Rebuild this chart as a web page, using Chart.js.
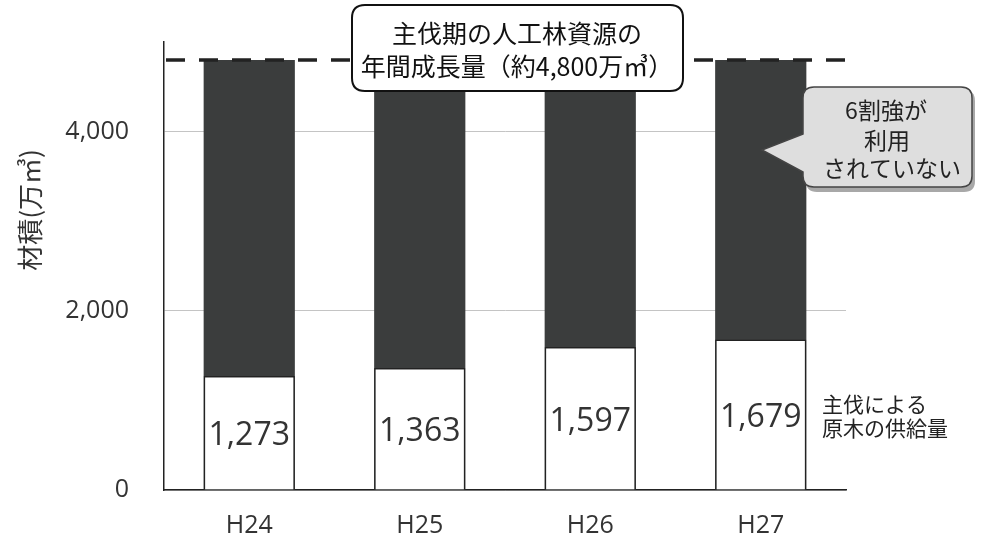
<!DOCTYPE html>
<html><head><meta charset="utf-8">
<script src="https://cdn.jsdelivr.net/npm/chart.js@4"></script>
<style>html,body{margin:0;padding:0;background:#fff}#wrap{width:983px;height:540px}</style>
</head><body><div id="wrap"><canvas id="c" width="983" height="540"></canvas></div>
<script>
const categories = ["H24", "H25", "H26", "H27"];
const supplyValues = [1273, 1363, 1597, 1679];
const growthValues = [4800, 4800, 4800, 4800];
const growthLevel = 4800;
const yTicks = [0, 2000, 4000];
const yTitle = "材積(万㎥)";
const boxLines = ["主伐期の人工林資源の", "年間成長量（約4,800万㎥）"];
const calloutLines = ["6割強が", "利用", "されていない"];
const sideLabelLines = ["主伐による", "原木の供給量"];

const JP = '"Noto Sans CJK JP", "Noto Sans", sans-serif';
const NUM = '"Open Sans", "Noto Sans", sans-serif';

function roundRect(ctx, x, y, w, h, r) {
  ctx.beginPath();
  ctx.moveTo(x + r, y);
  ctx.lineTo(x + w - r, y);
  ctx.quadraticCurveTo(x + w, y, x + w, y + r);
  ctx.lineTo(x + w, y + h - r);
  ctx.quadraticCurveTo(x + w, y + h, x + w - r, y + h);
  ctx.lineTo(x + r, y + h);
  ctx.quadraticCurveTo(x, y + h, x, y + h - r);
  ctx.lineTo(x, y + r);
  ctx.quadraticCurveTo(x, y, x + r, y);
  ctx.closePath();
}

const bgPlugin = {
  id: 'bg',
  beforeDraw(chart) {
    const ctx = chart.ctx;
    ctx.save(); ctx.fillStyle = '#fff'; ctx.fillRect(0, 0, chart.width, chart.height); ctx.restore();
  }
};

function calloutPath(ctx, l, t, r, b, rad, tipX, tipY, y1, y2) {
  ctx.beginPath();
  ctx.moveTo(l, y1);
  ctx.lineTo(tipX, tipY);
  ctx.lineTo(l, y2);
  ctx.lineTo(l, b - rad); ctx.quadraticCurveTo(l, b, l + rad, b);
  ctx.lineTo(r - rad, b); ctx.quadraticCurveTo(r, b, r, b - rad);
  ctx.lineTo(r, t + rad); ctx.quadraticCurveTo(r, t, r - rad, t);
  ctx.lineTo(l + rad, t); ctx.quadraticCurveTo(l, t, l, t + rad);
  ctx.closePath();
}

const annPlugin = {
  id: 'ann',
  afterDatasetsDraw(chart) {
    const ctx = chart.ctx;
    const ys = chart.scales.y;
    const area = chart.chartArea;
    ctx.save();
    // value labels in white bars
    const meta = chart.getDatasetMeta(0);
    ctx.fillStyle = '#333';
    ctx.font = '32px ' + NUM;
    ctx.textAlign = 'center'; ctx.textBaseline = 'middle';
    meta.data.forEach((bar, i) => {
      const yMid = ys.getPixelForValue(supplyValues[i] / 2);
      ctx.fillText(supplyValues[i].toLocaleString('en-US'), bar.x, yMid + 3);
    });
    // dashed growth line
    const yl = ys.getPixelForValue(growthLevel);
    ctx.strokeStyle = '#222'; ctx.lineWidth = 3.5;
    ctx.setLineDash([19, 14]);
    ctx.beginPath(); ctx.moveTo(area.left + 2, yl); ctx.lineTo(area.right + 12, yl); ctx.stroke();
    ctx.setLineDash([]);
    // top box
    roundRect(ctx, 352, 5, 331, 86, 13);
    ctx.fillStyle = '#fff'; ctx.fill();
    ctx.lineWidth = 2; ctx.strokeStyle = '#111'; ctx.stroke();
    ctx.fillStyle = '#111';
    ctx.font = '25px ' + JP;
    ctx.fillText(boxLines[0], 517, 33);
    ctx.fillText(boxLines[1], 517, 66);
    // callout shadow
    ctx.fillStyle = '#a8a8a8';
    roundRect(ctx, 806, 90, 169, 102, 11); ctx.fill();
    // callout body
    calloutPath(ctx, 803, 87, 972, 187, 11, 762, 150, 134, 172);
    ctx.fillStyle = '#dedede'; ctx.fill();
    ctx.strokeStyle = '#444'; ctx.lineWidth = 1.5; ctx.stroke();
    ctx.fillStyle = '#222';
    ctx.font = '23px ' + JP;
    ctx.fillText(calloutLines[0], 886, 110);
    ctx.fillText(calloutLines[1], 887, 140);
    ctx.fillText(calloutLines[2], 892, 168);
    // side label
    ctx.textAlign = 'left';
    ctx.font = '21px ' + JP;
    ctx.fillText(sideLabelLines[0], 822, 404);
    ctx.fillText(sideLabelLines[1], 822, 428);
    // y title
    ctx.translate(30, 210);
    ctx.rotate(-Math.PI / 2);
    ctx.textAlign = 'center';
    ctx.font = '26px ' + JP;
    ctx.fillStyle = '#333';
    ctx.fillText(yTitle, 0, 0);
    ctx.restore();
  }
};

new Chart(document.getElementById('c'), {
  type: 'bar',
  data: {
    labels: categories,
    datasets: [
      {
        label: '主伐による原木の供給量',
        data: supplyValues,
        backgroundColor: '#ffffff',
        borderColor: '#222',
        borderWidth: 1.5,
        borderSkipped: 'bottom',
        barPercentage: 0.535,
        categoryPercentage: 1
      },
      {
        label: '年間成長量',
        data: growthValues,
        backgroundColor: '#3b3d3d',
        borderWidth: 0,
        barPercentage: 0.535,
        categoryPercentage: 1
      }
    ]
  },
  options: {
    responsive: false,
    animation: false,
    layout: { padding: { left: 0, right: 137, top: 42, bottom: 0 } },
    plugins: { legend: { display: false }, tooltip: { enabled: false } },
    scales: {
      x: {
        stacked: true,
        grid: { display: false, drawTicks: false },
        border: { display: true, color: '#222', width: 1.5 },
        ticks: { color: '#333', font: { family: NUM, size: 25 }, padding: 21 },
        afterFit(s) { s.height = 50; s.paddingLeft = 0; s.paddingRight = 0; }
      },
      y: {
        stacked: false,
        min: 0, max: 5000,
        afterBuildTicks(s) { s.ticks = yTicks.map(v => ({ value: v })); },
        grid: { color: '#c4c4c4', lineWidth: 1, drawTicks: false },
        border: { display: true, color: '#222', width: 1.5 },
        ticks: {
          color: '#333', font: { family: NUM, size: 25 }, padding: 35,
          callback: v => Number(v).toLocaleString('en-US')
        },
        afterFit(s) { s.width = 164; s.paddingTop = 0; s.paddingBottom = 0; }
      }
    }
  },
  plugins: [bgPlugin, annPlugin]
});
</script></body></html>
